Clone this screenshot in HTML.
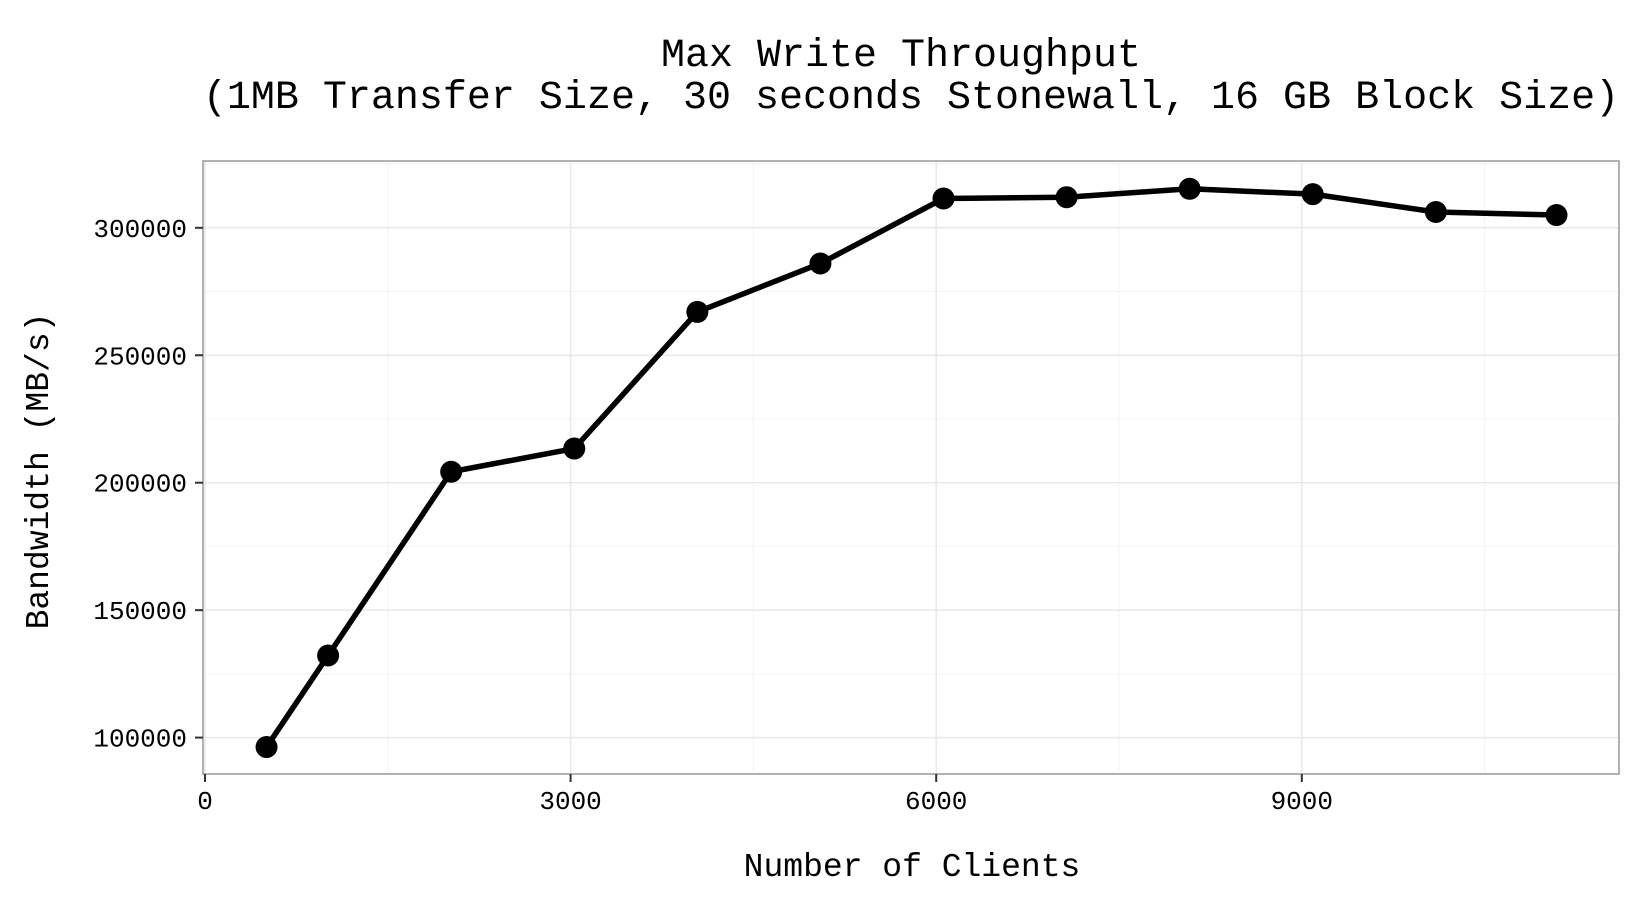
<!DOCTYPE html>
<html><head><meta charset="utf-8"><style>
html,body{margin:0;padding:0;background:#fff;}
svg text{font-family:"Liberation Mono","DejaVu Sans Mono",monospace;fill:#000;}
</style></head><body>
<svg id="chart" width="1650" height="900" viewBox="0 0 1650 900" xmlns="http://www.w3.org/2000/svg">
<text x="901" y="66" font-size="40" text-anchor="middle">Max Write Throughput</text>
<text x="911" y="108" font-size="40" text-anchor="middle">(1MB Transfer Size, 30 seconds Stonewall, 16 GB Block Size)</text>
<rect x="203" y="161" width="1416" height="613" fill="#fff"/>
<g id="grid"></g>
<rect x="203" y="161" width="1416" height="613" fill="none" stroke="#999" stroke-width="1.5"/>
<g id="axes"></g>
<g id="series"></g>
<text x="912" y="876" font-size="33" text-anchor="middle">Number of Clients</text>
<text transform="translate(48,471) rotate(-90)" font-size="33" text-anchor="middle">Bandwidth (MB/s)</text>
</svg>
<script>
const clients = [505,1010,2020,3030,4040,5050,6060,7070,8080,9090,10100,11090];
const bandwidth = [96300,132200,204300,213400,267000,286000,311500,312000,315300,313200,306200,305000];
const xTicks = [0,3000,6000,9000];
const yTicks = [100000,150000,200000,250000,300000];

const NS="http://www.w3.org/2000/svg";
const PL=203,PR=1619,PT=161,PB=774;
function xs(v){return 205+(v-0)*(365.6/3000);}
function ys(v){return 737.6-(v-100000)*(254.9/100000);}
function mk(tag,attrs,parent){const e=document.createElementNS(NS,tag);for(const k in attrs)e.setAttribute(k,attrs[k]);parent.appendChild(e);return e;}
const grid=document.getElementById('grid'),axes=document.getElementById('axes'),series=document.getElementById('series');
for(let i=0;i<xTicks.length;i++){
  const m=xTicks[i]+1500; const x=xs(m);
  if(x<PR){const l=mk('line',{x1:x,x2:x,y1:PT,y2:PB,stroke:'#f3f3f3','stroke-width':1},grid);
  
  }
}
for(let i=0;i<yTicks.length;i++){
  const y=ys(yTicks[i]-25000);
  if(y<PB&&y>PT){const l=mk('line',{x1:PL,x2:PR,y1:y,y2:y,stroke:'#f3f3f3','stroke-width':1},grid);
  
  }
}
const ym=ys(yTicks[yTicks.length-1]+25000);
if(ym>PT){const l=mk('line',{x1:PL,x2:PR,y1:ym,y2:ym,stroke:'#f3f3f3','stroke-width':1},grid);

}
xTicks.forEach(v=>{
  const x=xs(v);
  const g=mk('line',{x1:x,x2:x,y1:PT,y2:PB,stroke:'#e8e8e8','stroke-width':1.5},grid);
  
  
  const t=mk('line',{x1:x,x2:x,y1:PB,y2:PB+8,stroke:'#333','stroke-width':2},axes);
  
  
  const tx=mk('text',{x:x,y:809,'font-size':26,'text-anchor':'middle'},axes);
  tx.textContent=String(v);
  
  
});
yTicks.forEach(v=>{
  const y=ys(v);
  const g=mk('line',{x1:PL,x2:PR,y1:y,y2:y,stroke:'#e8e8e8','stroke-width':1.5},grid);
  
  
  const t=mk('line',{x1:PL-8,x2:PL,y1:y,y2:y,stroke:'#333','stroke-width':2},axes);
  
  
  const tx=mk('text',{x:187,y:y+9,'font-size':26,'text-anchor':'end'},axes);
  tx.textContent=String(v);
  
  
});
const pts=clients.map((c,i)=>xs(c)+','+ys(bandwidth[i])).join(' ');
const pl=mk('polyline',{points:pts,fill:'none',stroke:'#000','stroke-width':5.5,'stroke-linejoin':'round'},series);


clients.forEach((c,i)=>{
  const p=mk('circle',{cx:xs(c),cy:ys(bandwidth[i]),r:11,fill:'#000'},series);
  
  
});
</script>
</body></html>
